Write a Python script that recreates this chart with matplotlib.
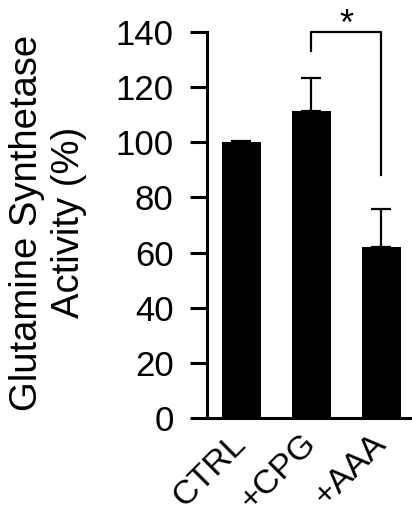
import matplotlib
matplotlib.use("Agg")
import matplotlib.pyplot as plt

categories = ["CTRL", "+CPG", "+AAA"]
values = [100.0, 111.5, 62.1]
errors = [0.6, 11.7, 13.6]
yticks = [0, 20, 40, 60, 80, 100, 120, 140]
bracket_left, bracket_right, bracket_top = 133, 88, 140
star_y = 142.5

plt.rcParams['font.family'] = ['Liberation Sans', 'DejaVu Sans']

fig = plt.figure(figsize=(4.12, 5.2), dpi=100)
ax = fig.add_axes([0.5024, 0.196, 0.4976, 0.7425])

x = list(range(len(categories)))
ax.bar(x, values, width=0.56, color='black', zorder=2)
ax.errorbar(x, values, yerr=[[0]*len(errors), errors], fmt='none', ecolor='black',
            elinewidth=1.6, capsize=7.5, capthick=1.6, zorder=1)

ax.plot([1, 1, 2, 2], [bracket_left, bracket_top, bracket_top, bracket_right],
        color='black', lw=1.6, clip_on=False)
ax.text(1.5, star_y, "*", ha='center', va='center', fontsize=26, clip_on=False)

ax.set_xlim(-0.49, 2.44)
ax.set_ylim(0, 140)
ax.set_yticks(yticks)
ax.set_yticklabels([str(t) for t in yticks], fontsize=25)
ax.set_xticks(x)
ax.set_xticklabels(categories, fontsize=24.5, rotation=45, ha='right', va='center',
                   rotation_mode='anchor')
ax.tick_params(axis='x', length=0, pad=15)
ax.tick_params(axis='y', length=12, width=2.2, pad=12)

for s in ['top', 'right']:
    ax.spines[s].set_visible(False)
for s in ['left', 'bottom']:
    ax.spines[s].set_linewidth(2.2)

ax.set_ylabel("Glutamine Synthetase\nActivity (%)", fontsize=27.5, linespacing=1.2)
ax.yaxis.set_label_coords(-0.585, 0.506)

fig.savefig("out.png", dpi=100)
